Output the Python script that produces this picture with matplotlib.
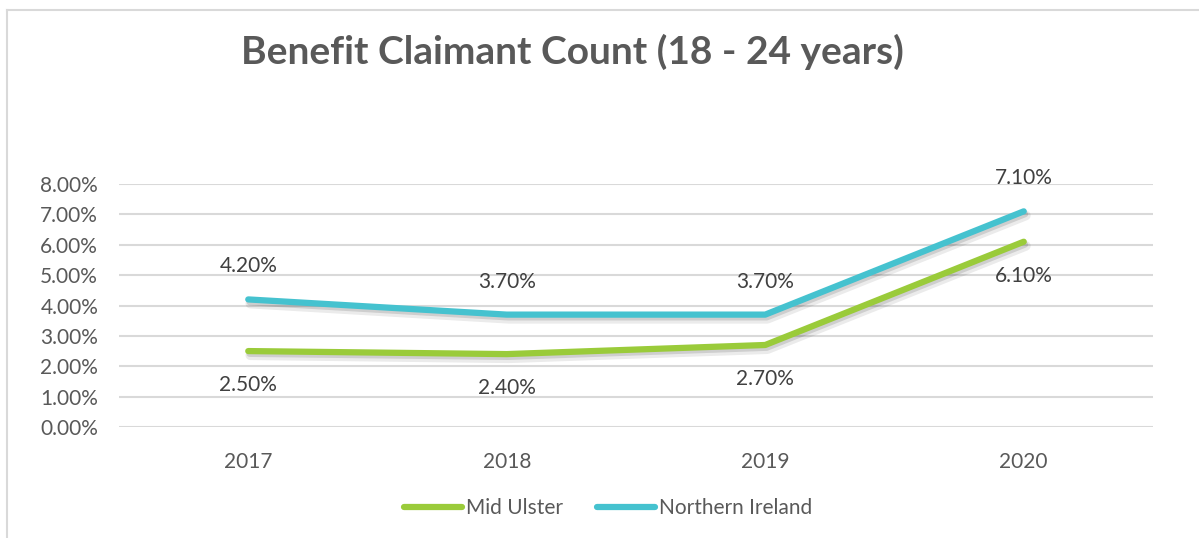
import matplotlib
matplotlib.use("Agg")
import matplotlib.pyplot as plt
import matplotlib.patheffects as pe
from matplotlib.lines import Line2D

years = ["2017", "2018", "2019", "2020"]
mid_ulster = [2.5, 2.4, 2.7, 6.1]
northern_ireland = [4.2, 3.7, 3.7, 7.1]
y_ticks = [0, 1, 2, 3, 4, 5, 6, 7, 8]

GREEN = "#9acb3a"
TEAL = "#45c2cf"
GREY = "#595959"
LABEL = "#404040"

plt.rcParams["font.family"] = ["Lato", "DejaVu Sans"]

fig = plt.figure(figsize=(11.99, 5.38), dpi=100)
fig.patch.set_facecolor("white")

# chart frame (only top and left edges show)
fig.add_artist(Line2D([7 / 1199, 7 / 1199], [0, 1 - 10 / 538], color="#d9d9d9", lw=1.5))
fig.add_artist(Line2D([7 / 1199, 1], [1 - 10 / 538, 1 - 10 / 538], color="#d9d9d9", lw=1.5))

ax = fig.add_axes([119 / 1199, 111 / 538, 1034 / 1199, 243 / 538])
x = list(range(len(years)))

# soft drop shadow under the lines
shadow = [pe.SimpleLineShadow(offset=(1.5, -3), shadow_color="black", alpha=0.08, linewidth=7),
          pe.SimpleLineShadow(offset=(1, -2), shadow_color="black", alpha=0.12),
          pe.Normal()]
ax.plot(x, mid_ulster, color=GREEN, lw=4.5, solid_capstyle="round",
        solid_joinstyle="round", path_effects=shadow, zorder=3)
ax.plot(x, northern_ireland, color=TEAL, lw=4.5, solid_capstyle="round",
        solid_joinstyle="round", path_effects=shadow, zorder=3)

for i, v in enumerate(mid_ulster):
    ax.annotate(f"{v:.2f}%", (i, v), xytext=(0, -34), textcoords="offset pixels",
                ha="center", va="center", fontsize=15, color=LABEL)
for i, v in enumerate(northern_ireland):
    ax.annotate(f"{v:.2f}%", (i, v), xytext=(0, 33), textcoords="offset pixels",
                ha="center", va="center", fontsize=15, color=LABEL)

ax.set_xlim(-0.5, 3.5)
ax.set_ylim(0, 8)
ax.set_xticks(x)
ax.set_xticklabels(years)
ax.set_yticks(y_ticks)
ax.set_yticklabels([f"{t:.2f}%" for t in y_ticks])
ax.tick_params(axis="both", length=0, labelsize=15, colors=GREY)
ax.tick_params(axis="y", pad=15)
ax.tick_params(axis="x", pad=18)
ax.grid(axis="y", color="#d9d9d9", lw=1.5)
ax.set_axisbelow(True)
for s in ax.spines.values():
    s.set_visible(False)

fig.text(572 / 1199, 1 - 52 / 538, "Benefit Claimant Count (18 - 24 years)",
         ha="center", va="center", fontsize=28, fontweight="bold", color=GREY)

handles = [Line2D([], [], color=GREEN, lw=4.5, solid_capstyle="round"),
           Line2D([], [], color=TEAL, lw=4.5, solid_capstyle="round")]
fig.legend(handles, ["Mid Ulster", "Northern Ireland"], loc="center",
           bbox_to_anchor=(608 / 1199, 1 - 508 / 538), ncol=2, frameon=False,
           fontsize=15, labelcolor=GREY, handlelength=2.8, handletextpad=0.2,
           columnspacing=1.6)

fig.savefig("out.png", dpi=100)
